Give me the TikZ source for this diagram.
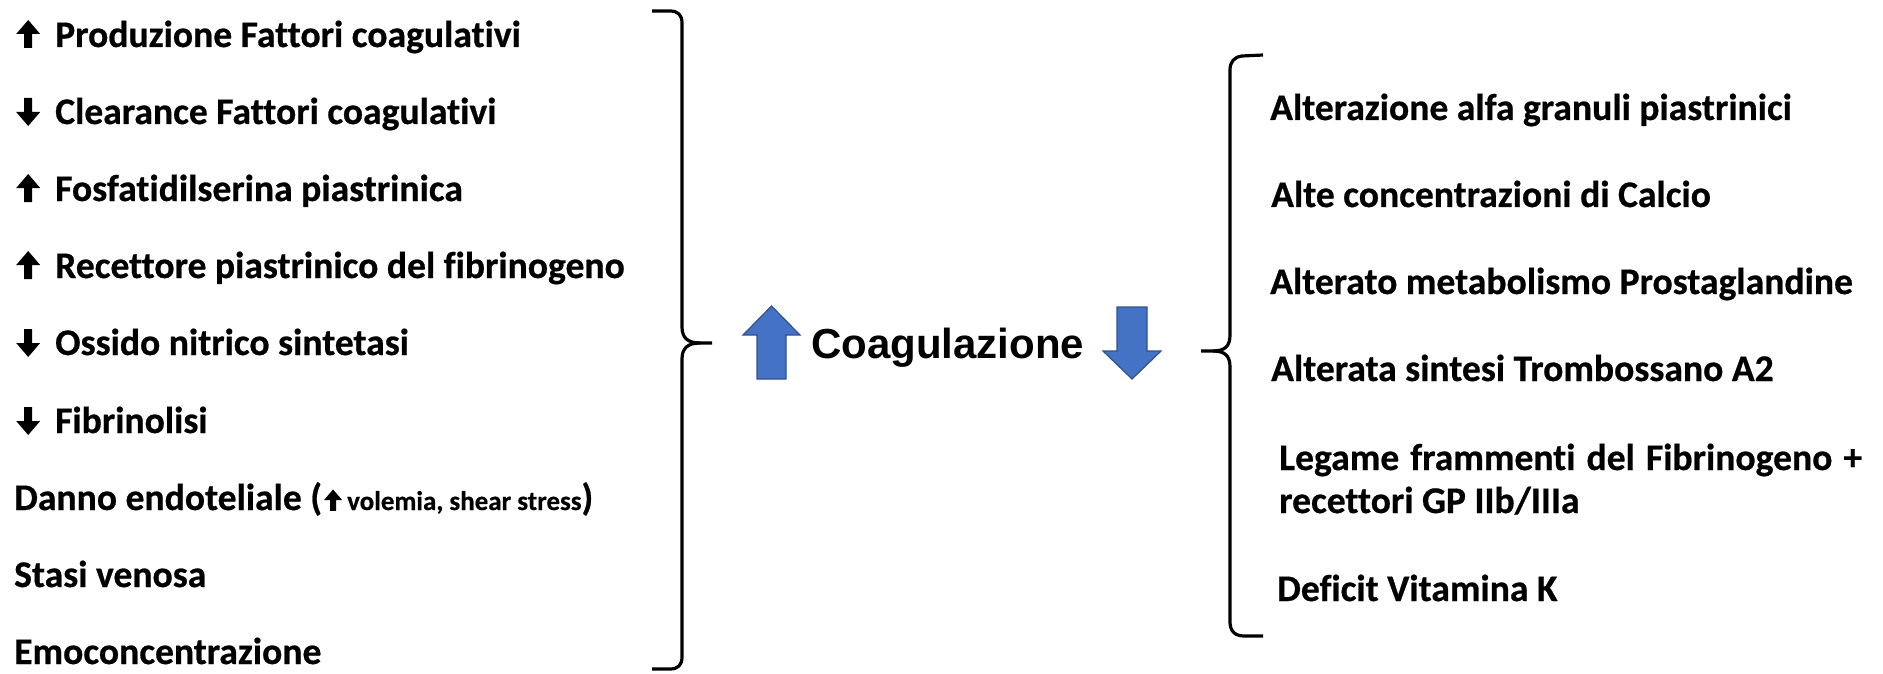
\documentclass[tikz,border=0pt]{standalone}
\usepackage{fontspec}
\setmainfont{Carlito}[Ligatures=CommonOff, BoldFeatures={FakeBold=0.6}]
\newfontfamily\headfont{Liberation Sans}

\definecolor{arrowblue}{HTML}{4472C4}
\definecolor{arrowedge}{HTML}{2F528F}

% small solid arrows used in front of the list entries
\newcommand\upglyph[1][1]{\tikz[baseline=0pt,x=#1pt,y=#1pt]
  \fill (8,-1) -- (16,-1) -- (16,13) -- (24,13) -- (12,27) -- (0,13) -- (8,13) -- cycle;}
\newcommand\downglyph[1][1]{\tikz[baseline=0pt,x=#1pt,y=#1pt]
  \fill (8,26) -- (16,26) -- (16,12) -- (24,12) -- (12,-2) -- (0,12) -- (8,12) -- cycle;}

\tikzset{
  entry/.style={anchor=base west, inner sep=0pt, font=\fontsize{37.6}{43}\selectfont\bfseries},
  brace/.style={line width=3.2pt, line join=round},
  bigarrow/.style={fill=arrowblue, draw=arrowedge, line width=1.2pt, line join=miter},
}

\begin{document}
\begin{tikzpicture}[x=1pt,y=-1pt]
\useasboundingbox (0,0) rectangle (1883,674);

% causes that raise coagulation
\node[entry] (p1) at (16,47)  {\upglyph\hspace{15pt}Produzione Fattori coagulativi};
\node[entry] (p2) at (16,124) {\downglyph\hspace{15pt}Clearance Fattori coagulativi};
\node[entry] (p3) at (16,201) {\upglyph\hspace{15pt}Fosfatidilserina piastrinica};
\node[entry] (p4) at (16,278) {\upglyph\hspace{15pt}Recettore piastrinico del fibrinogeno};
\node[entry] (p5) at (16,355) {\downglyph\hspace{15pt}Ossido nitrico sintetasi};
\node[entry] (p6) at (16,433) {\downglyph\hspace{15pt}Fibrinolisi};
\node[entry] (p7) at (14,510) {Danno endoteliale (\hspace{2pt}\upglyph[0.76]\hspace{5pt}{\fontsize{27}{30}\selectfont volemia, shear stress})};
\node[entry] (p8) at (14,587) {Stasi venosa};
\node[entry] (p9) at (14,664) {Emoconcentrazione};

% left brace
\draw[brace] (652,11) -- (670,11) .. controls (678,11) and (682,15) .. (682,23)
  -- (682,327) .. controls (682,338) and (688,343) .. (700,343) -- (712,343);
\draw[brace] (700,343) .. controls (688,343) and (682,348) .. (682,359)
  -- (682,657) .. controls (682,665) and (678,669) .. (670,669) -- (652,669);
\coordinate (ltip) at (712,343);

% centre: coagulation up / down
\draw[bigarrow] (757,379) -- (757,335) -- (743,335) -- (771.5,306) -- (800,335) -- (786,335) -- (786,379) -- cycle;
\node[anchor=base west, inner sep=0pt, font=\headfont\bfseries\fontsize{42}{48}\selectfont] (coag) at (811,358) {Coagulazione};
\draw[bigarrow] (1117,307) -- (1147,307) -- (1147,351) -- (1161,351) -- (1132,379) -- (1103,351) -- (1117,351) -- cycle;

% right brace
\coordinate (rtip) at (1201,351);
\draw[brace] (1263,55) -- (1242,56) .. controls (1234,57) and (1230,62) .. (1230,70)
  -- (1230,335) .. controls (1230,346) and (1225,351) .. (1213,351) -- (rtip);
\draw[brace] (1213,351) .. controls (1225,351) and (1230,356) .. (1230,367)
  -- (1230,622) .. controls (1230,631) and (1235,636) .. (1244,636) -- (1263,636);

% causes that lower coagulation
\node[entry] (q1) at (1270,120) {Alterazione alfa granuli piastrinici};
\node[entry] (q2) at (1271,207) {Alte concentrazioni di Calcio};
\node[entry] (q3) at (1270,294) {Alterato metabolismo Prostaglandine};
\node[entry] (q4) at (1271,381) {Alterata sintesi Trombossano A2};
\node[entry, align=left] (q5) at (1279,513) {\makebox[583pt][s]{Legame frammenti del Fibrinogeno +}\\recettori GP IIb/IIIa};
\node[entry] (q6) at (1277,601) {Deficit Vitamina K};
\end{tikzpicture}
\end{document}
